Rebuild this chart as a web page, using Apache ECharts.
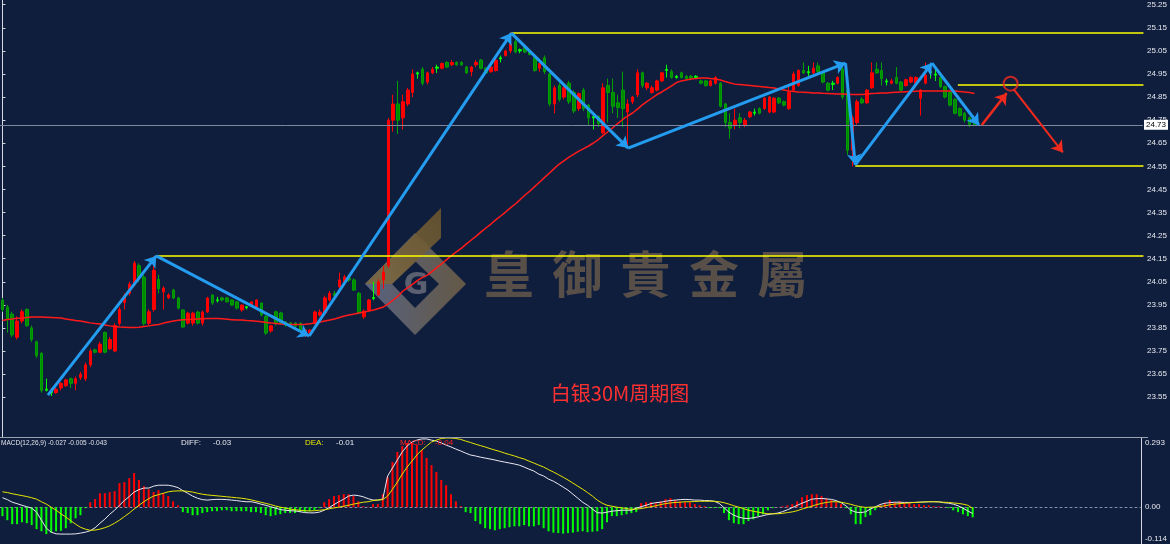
<!DOCTYPE html>
<html><head><meta charset="utf-8">
<script src="https://cdn.jsdelivr.net/npm/echarts@6/dist/echarts.min.js"></script>
<style>html,body{margin:0;padding:0;background:#101e3e;}#c{width:1170px;height:544px;}</style>
</head><body><div id="c"></div>
<script>
const TOTAL_SLOTS = 234;
const categories = Array.from({length: TOTAL_SLOTS}, (_, i) => 'B' + i);
// [open, close, low, high]
const ohlc = [
[23.97,23.93,23.92,23.98],[23.94,23.89,23.83,23.95],[23.91,23.82,23.81,23.92],[23.81,23.88,23.80,23.90],[23.88,23.92,23.87,23.93],[23.93,23.86,23.855,23.935],[23.85,23.80,23.79,23.86],[23.79,23.73,23.72,23.795],[23.74,23.58,23.57,23.745],[23.585,23.58,23.575,23.63],
[23.575,23.57,23.555,23.59],[23.57,23.585,23.565,23.59],[23.59,23.61,23.58,23.615],[23.60,23.625,23.595,23.63],[23.63,23.61,23.59,23.635],[23.61,23.63,23.58,23.64],[23.635,23.65,23.625,23.66],[23.63,23.69,23.62,23.70],[23.69,23.75,23.68,23.76],[23.755,23.745,23.74,23.76],
[23.745,23.78,23.74,23.79],[23.83,23.745,23.74,23.835],[23.76,23.80,23.755,23.81],[23.75,23.86,23.745,23.87],[23.87,23.93,23.86,23.94],[23.96,23.99,23.93,24.00],[24.00,24.04,23.99,24.05],[24.04,24.13,24.03,24.14],[24.12,24.07,24.05,24.13],[24.07,23.87,23.86,24.08],
[23.87,23.92,23.86,23.93],[23.93,24.10,23.92,24.16],[24.06,24.02,24.00,24.08],[24.006,24.023,23.93,24.03],[23.98,23.993,23.975,24.0],[24.014,23.98,23.975,24.02],[23.98,23.936,23.93,23.985],[23.928,23.854,23.85,23.93],[23.871,23.914,23.865,23.92],[23.871,23.914,23.86,23.92],
[23.919,23.871,23.865,23.925],[23.871,23.919,23.86,23.925],[23.919,23.98,23.915,23.985],[23.993,23.958,23.95,23.995],[23.972,23.968,23.96,23.985],[23.98,23.971,23.965,23.985],[23.98,23.963,23.96,23.985],[23.971,23.949,23.945,23.975],[23.963,23.936,23.93,23.965],[23.928,23.949,23.92,23.952],
[23.942,23.938,23.93,23.945],[23.949,23.963,23.945,23.965],[23.94,23.971,23.935,23.975],[23.958,23.906,23.90,23.96],[23.90,23.828,23.82,23.905],[23.837,23.859,23.83,23.862],[23.92,23.87,23.86,23.925],[23.915,23.87,23.865,23.92],[23.876,23.863,23.855,23.88],[23.872,23.863,23.855,23.875],
[23.871,23.858,23.85,23.875],[23.87,23.841,23.835,23.875],[23.828,23.841,23.811,23.845],[23.828,23.841,23.815,23.845],[23.871,23.919,23.865,23.925],[23.906,23.919,23.90,23.93],[23.915,23.98,23.91,23.99],[23.971,24.0,23.965,24.01],[24.0,23.99,23.98,24.01],[24.028,24.058,24.02,24.09],
[24.045,24.071,24.04,24.08],[24.066,24.058,24.05,24.075],[24.058,24.014,24.01,24.065],[24.0,23.915,23.91,24.005],[23.898,23.923,23.89,23.93],[23.928,23.971,23.92,23.975],[23.982,23.978,23.97,24.05],[23.993,24.05,23.99,24.06],[24.058,24.092,24.02,24.12],[24.12,24.75,24.11,24.76],
[24.75,24.82,24.70,24.86],[24.82,24.75,24.69,24.92],[24.76,24.83,24.71,24.86],[24.82,24.88,24.81,24.89],[24.87,24.95,24.85,24.97],[24.955,24.95,24.93,24.96],[24.97,24.91,24.90,24.98],[24.915,24.955,24.905,24.96],[24.955,24.97,24.95,24.98],[24.98,24.975,24.955,24.99],
[24.975,24.995,24.97,25.00],[25.0,24.98,24.975,25.005],[24.99,25.0,24.985,25.01],[25.0,24.99,24.985,25.005],[25.0,24.99,24.985,25.005],[24.98,24.955,24.95,24.985],[24.96,24.98,24.94,24.985],[24.99,25.0,24.98,25.01],[25.01,24.975,24.97,25.015],[24.975,24.955,24.95,24.98],
[24.96,24.98,24.955,24.985],[24.965,25.01,24.96,25.015],[25.02,25.015,25.0,25.03],[25.03,25.05,25.025,25.055],[25.05,25.08,25.04,25.13],[25.09,25.045,25.04,25.10],[25.055,25.05,25.04,25.06],[25.065,25.045,25.04,25.07],[25.045,25.035,25.03,25.05],[25.02,24.965,24.96,25.03],
[24.975,24.995,24.96,25.0],[25.02,24.96,24.95,25.03],[24.95,24.82,24.81,24.955],[24.82,24.89,24.78,24.90],[24.90,24.84,24.83,24.91],[24.85,24.89,24.84,24.90],[24.91,24.83,24.82,24.92],[24.87,24.79,24.78,24.88],[24.80,24.865,24.79,24.87],[24.88,24.80,24.79,24.89],
[24.815,24.76,24.73,24.82],[24.765,24.76,24.71,24.77],[24.765,24.735,24.72,24.77],[24.695,24.89,24.69,24.91],[24.90,24.87,24.74,24.93],[24.87,24.81,24.78,24.93],[24.825,24.805,24.76,24.86],[24.88,24.80,24.72,24.96],[24.785,24.82,24.63,24.84],[24.83,24.85,24.82,24.855],
[24.86,24.955,24.85,24.97],[24.955,24.90,24.89,24.96],[24.89,24.91,24.88,24.915],[24.87,24.89,24.865,24.90],[24.88,24.92,24.875,24.925],[24.92,24.955,24.915,24.96],[24.97,24.965,24.935,24.99],[24.96,24.935,24.93,24.97],[24.94,24.935,24.93,24.945],[24.955,24.935,24.93,24.96],
[24.94,24.93,24.925,24.945],[24.94,24.93,24.925,24.945],[24.94,24.935,24.93,24.945],[24.92,24.91,24.905,24.925],[24.92,24.90,24.895,24.925],[24.90,24.92,24.895,24.925],[24.91,24.935,24.905,24.94],[24.91,24.81,24.805,24.915],[24.82,24.74,24.72,24.825],[24.74,24.715,24.67,24.78],
[24.73,24.75,24.71,24.80],[24.76,24.74,24.715,24.78],[24.73,24.75,24.72,24.76],[24.765,24.785,24.76,24.79],[24.785,24.78,24.77,24.80],[24.80,24.78,24.775,24.805],[24.80,24.845,24.795,24.85],[24.785,24.85,24.78,24.855],[24.785,24.845,24.78,24.85],[24.845,24.825,24.82,24.85],
[24.83,24.815,24.81,24.835],[24.80,24.87,24.795,24.90],[24.88,24.95,24.875,24.96],[24.90,24.965,24.895,24.97],[24.965,24.955,24.95,25.0],[24.96,24.955,24.94,24.985],[24.955,24.975,24.95,25.0],[24.985,24.96,24.955,25.0],[24.955,24.915,24.91,24.96],[24.91,24.88,24.875,24.915],
[24.91,24.905,24.88,24.92],[24.91,24.935,24.905,24.94],[24.97,24.85,24.84,25.0],[24.88,24.62,24.60,24.89],[24.62,24.76,24.55,24.77],[24.74,24.83,24.73,24.84],[24.84,24.825,24.82,24.85],[24.825,24.88,24.82,24.885],[24.89,24.955,24.885,25.0],[24.97,24.955,24.95,25.0],
[24.965,24.93,24.90,25.0],[24.92,24.915,24.90,24.93],[24.91,24.92,24.905,24.93],[24.935,24.91,24.905,24.98],[24.915,24.88,24.875,24.92],[24.90,24.925,24.895,24.93],[24.915,24.935,24.91,24.94],[24.91,24.935,24.905,24.94],[24.845,24.88,24.77,24.885],[24.91,24.945,24.905,25.0],
[24.96,24.955,24.93,24.99],[24.95,24.945,24.92,24.97],[24.935,24.895,24.89,24.94],[24.895,24.85,24.845,24.90],[24.87,24.815,24.81,24.875],[24.84,24.78,24.775,24.845],[24.80,24.77,24.765,24.805],[24.78,24.75,24.74,24.785],[24.76,24.73,24.72,24.765],[24.745,24.73,24.725,24.75]
];
const ma = [
23.882,23.887,23.889,23.892,23.893,23.895,23.897,23.897,23.897,23.896,
23.895,23.894,23.893,23.889,23.886,23.882,23.880,23.876,23.872,23.869,
23.867,23.863,23.859,23.856,23.854,23.853,23.852,23.852,23.853,23.856,
23.859,23.863,23.865,23.871,23.876,23.880,23.883,23.885,23.887,23.888,
23.889,23.890,23.891,23.891,23.891,23.890,23.888,23.886,23.884,23.884,
23.882,23.881,23.879,23.877,23.874,23.871,23.869,23.867,23.866,23.865,
23.865,23.865,23.866,23.868,23.871,23.876,23.880,23.884,23.889,23.895,
23.902,23.906,23.910,23.915,23.919,23.923,23.928,23.934,23.941,23.954,
23.971,23.988,24.010,24.025,24.040,24.056,24.069,24.079,24.095,24.112,
24.129,24.147,24.164,24.181,24.196,24.214,24.231,24.248,24.266,24.283,
24.300,24.318,24.335,24.352,24.370,24.387,24.406,24.426,24.443,24.463,
24.482,24.502,24.521,24.541,24.560,24.575,24.590,24.603,24.616,24.627,
24.638,24.651,24.666,24.684,24.701,24.718,24.736,24.753,24.768,24.781,
24.798,24.816,24.831,24.846,24.861,24.872,24.885,24.898,24.913,24.920,
24.924,24.928,24.930,24.933,24.933,24.930,24.928,24.924,24.917,24.911,
24.906,24.904,24.902,24.900,24.898,24.896,24.894,24.891,24.889,24.885,
24.881,24.876,24.874,24.872,24.871,24.870,24.868,24.868,24.866,24.865,
24.864,24.863,24.863,24.862,24.861,24.861,24.861,24.863,24.865,24.866,
24.868,24.868,24.870,24.871,24.872,24.873,24.874,24.875,24.876,24.876,
24.876,24.876,24.876,24.876,24.876,24.876,24.874,24.872,24.870,24.865
];
const diff = [
0.040,0.032,0.021,0.015,0.008,0.002,-0.004,-0.021,-0.055,-0.089,
-0.106,-0.113,-0.114,-0.114,-0.114,-0.113,-0.110,-0.106,-0.100,-0.087,
-0.068,-0.051,-0.030,-0.013,0.008,0.028,0.045,0.064,0.074,0.081,
0.081,0.089,0.093,0.093,0.093,0.089,0.083,0.070,0.059,0.047,
0.038,0.032,0.030,0.032,0.033,0.033,0.032,0.030,0.028,0.025,
0.023,0.023,0.019,0.013,0.008,0.002,-0.004,-0.010,-0.013,-0.015,
-0.016,-0.019,-0.023,-0.024,-0.024,-0.021,-0.013,-0.002,0.011,0.023,
0.034,0.047,0.051,0.049,0.044,0.036,0.030,0.030,0.034,0.132,
0.166,0.200,0.234,0.259,0.276,0.284,0.289,0.289,0.284,0.280,
0.272,0.263,0.255,0.246,0.238,0.229,0.221,0.217,0.212,0.208,
0.204,0.200,0.195,0.191,0.187,0.183,0.178,0.170,0.161,0.153,
0.140,0.132,0.119,0.110,0.098,0.085,0.072,0.055,0.038,0.021,
0.008,-0.008,-0.023,-0.025,-0.021,-0.017,-0.015,-0.013,-0.013,-0.013,
-0.004,0.002,0.008,0.015,0.019,0.021,0.025,0.028,0.030,0.032,
0.033,0.032,0.030,0.030,0.028,0.028,0.025,0.016,-0.002,-0.021,
-0.034,-0.042,-0.047,-0.048,-0.045,-0.041,-0.036,-0.031,-0.028,-0.025,
-0.019,-0.011,-0.002,0.008,0.017,0.025,0.034,0.036,0.037,0.035,
0.033,0.028,0.019,0.006,-0.013,-0.021,-0.023,-0.020,-0.008,0.001,
0.011,0.017,0.019,0.021,0.021,0.020,0.020,0.020,0.021,0.022,
0.023,0.023,0.023,0.019,0.017,0.013,0.006,-0.004,-0.016,-0.027
];
const dea = [
0.065,0.062,0.057,0.053,0.049,0.045,0.040,0.034,0.023,0.013,
0.000,-0.013,-0.028,-0.042,-0.057,-0.072,-0.085,-0.093,-0.098,-0.097,
-0.093,-0.087,-0.079,-0.068,-0.055,-0.040,-0.025,-0.008,0.008,0.023,
0.036,0.047,0.053,0.059,0.065,0.068,0.069,0.069,0.067,0.064,
0.059,0.055,0.052,0.050,0.048,0.046,0.044,0.042,0.040,0.038,
0.035,0.031,0.026,0.021,0.016,0.011,0.005,0.000,-0.004,-0.008,
-0.011,-0.013,-0.015,-0.016,-0.015,-0.013,-0.011,-0.007,-0.003,0.000,
0.004,0.008,0.013,0.017,0.021,0.023,0.028,0.030,0.032,0.047,
0.076,0.106,0.140,0.170,0.195,0.221,0.242,0.259,0.276,0.284,
0.291,0.293,0.293,0.291,0.287,0.280,0.274,0.267,0.261,0.255,
0.248,0.242,0.236,0.229,0.223,0.217,0.210,0.204,0.195,0.187,
0.178,0.170,0.159,0.149,0.138,0.127,0.115,0.102,0.089,0.076,
0.062,0.047,0.030,0.017,0.008,0.004,0.000,-0.003,-0.006,-0.009,
-0.008,-0.006,-0.002,0.002,0.006,0.011,0.015,0.018,0.020,0.021,
0.023,0.023,0.024,0.025,0.025,0.025,0.025,0.023,0.019,0.013,
0.006,0.000,-0.006,-0.013,-0.017,-0.021,-0.025,-0.028,-0.028,-0.028,
-0.026,-0.023,-0.020,-0.015,-0.008,-0.002,0.004,0.011,0.016,0.020,
0.023,0.023,0.021,0.017,0.012,0.006,0.002,-0.001,0.000,0.001,
0.003,0.006,0.010,0.013,0.015,0.017,0.018,0.020,0.021,0.022,
0.023,0.023,0.022,0.021,0.020,0.018,0.016,0.013,0.008,-0.005
];
const hist = [
-0.038,-0.055,-0.072,-0.072,-0.064,-0.068,-0.076,-0.093,-0.102,-0.114,
-0.108,-0.102,-0.100,-0.089,-0.068,-0.047,-0.034,-0.004,0.021,0.034,
0.059,0.059,0.064,0.068,0.102,0.106,0.123,0.144,0.115,0.089,
0.076,0.064,0.072,0.059,0.047,0.025,0.008,-0.021,-0.025,-0.034,
-0.034,-0.025,-0.021,-0.017,-0.017,-0.013,-0.013,-0.017,-0.017,-0.017,
-0.017,-0.021,-0.021,-0.025,-0.034,-0.038,-0.034,-0.030,-0.025,-0.025,
-0.025,-0.021,-0.021,-0.017,-0.013,-0.004,0.021,0.034,0.047,0.051,
0.055,0.055,0.047,0.025,0.004,0.002,0.013,0.013,0.055,0.127,
0.191,0.234,0.259,0.272,0.272,0.263,0.242,0.208,0.178,0.149,
0.115,0.093,0.055,0.025,0.004,-0.021,-0.025,-0.059,-0.072,-0.089,
-0.093,-0.098,-0.093,-0.089,-0.085,-0.081,-0.081,-0.076,-0.081,-0.081,
-0.076,-0.089,-0.102,-0.108,-0.110,-0.112,-0.110,-0.108,-0.104,-0.102,
-0.106,-0.104,-0.102,-0.093,-0.064,-0.038,-0.038,-0.034,-0.030,-0.025,
-0.021,0.017,0.021,0.021,0.017,0.025,0.034,0.038,0.030,0.025,
0.021,0.021,0.013,0.008,0.004,-0.004,-0.004,-0.004,-0.025,-0.055,
-0.068,-0.072,-0.072,-0.059,-0.051,-0.038,-0.030,-0.013,-0.004,0.001,
0.004,0.008,0.013,0.025,0.042,0.051,0.055,0.055,0.047,0.038,
0.030,0.021,0.013,-0.004,-0.030,-0.072,-0.072,-0.042,-0.034,-0.013,
0.008,0.017,0.030,0.021,0.025,0.017,0.017,0.013,0.013,0.008,
0.008,0.004,0.004,0.001,-0.004,-0.013,-0.021,-0.030,-0.038,-0.043
];
const priceTicks = [23.55,23.65,23.75,23.85,23.95,24.05,24.15,24.25,24.35,24.45,24.55,24.65,24.75,24.85,24.95,25.05,25.15,25.25];
const macdTicks = [0.293, 0, -0.114];
const lastPrice = 24.73;
// horizontal levels: [start slot, price]
const levels = [[104.2, 25.127], [195.6, 24.902], [174.6, 24.551], [31.5, 24.162]];
const levelEnd = 233.6;
// wave turning points [slot, price]
const wavePoints = [[9.3,23.559],[31.5,24.162],[62.8,23.815],[104.2,25.127],[128.1,24.629],[172.6,24.997],[174.6,24.556],[190.3,24.997],[199.9,24.729]];
const forecastUp = [[200.5,24.729],[205.6,24.867]];
const forecastDown = [[207.0,24.884],[217.1,24.61]];
const forecastCircle = [206.4, 24.908];
const macdHeader = {params: 'MACD(12,26,9) -0.027 -0.005 -0.043', diff: '-0.03', dea: '-0.01', macd: '-0.04'};

const BG = '#101e3e';
const chart = echarts.init(document.getElementById('c'), null, {renderer: 'canvas'});

const candleData = ohlc.map(d => {
  if (Math.abs(d[0] - d[1]) <= 0.006) {
    return {value: d, itemStyle: {color: '#00ff00', color0: '#00ff00', borderColor: '#00ff00', borderColor0: '#00ff00'}};
  }
  return d;
});
const waveSegs = [];
for (let i = 0; i < wavePoints.length - 1; i++) {
  waveSegs.push({coords: [wavePoints[i], wavePoints[i + 1]]});
}
const levelSegs = levels.map(l => ({coords: [[l[0], l[1]], [levelEnd, l[1]]]}));
const axisFont = '"Liberation Sans Narrow","Liberation Sans",sans-serif';

const wmChars = ['皇','御','貴','金','屬'];
const wmGraphics = wmChars.map((ch, k) => ({
  type: 'text', x: 509 + k * 68.3, y: 274, z: 0,
  style: {text: ch, fill: 'rgba(100,88,74,0.85)', fontSize: 50, fontWeight: 'bold',
    fontFamily: '"Noto Sans CJK TC","Noto Sans CJK SC",sans-serif', align: 'center', verticalAlign: 'middle'}
}));

const option = {
  backgroundColor: BG,
  animation: false,
  grid: [
    {left: 0, right: 22, top: 0, height: 437},
    {left: 0, right: 22, top: 438, height: 106}
  ],
  xAxis: [
    {type: 'category', data: categories, gridIndex: 0, boundaryGap: true, show: false},
    {type: 'value', gridIndex: 0, min: -0.5, max: TOTAL_SLOTS - 0.5, show: false},
    {type: 'category', data: categories, gridIndex: 1, boundaryGap: true,
      axisLine: {show: true, onZero: true, lineStyle: {color: '#8a91a6', width: 1, type: [2, 3]}},
      axisTick: {show: false}, axisLabel: {show: false}, splitLine: {show: false}}
  ],
  yAxis: [
    {type: 'value', gridIndex: 0, position: 'right', min: 23.3777, max: 25.2704, scale: true,
      splitLine: {show: false},
      axisLine: {show: true, lineStyle: {color: '#d4d8e0', width: 1}},
      axisTick: {show: true, length: 3, customValues: priceTicks, lineStyle: {color: '#d4d8e0'}},
      axisLabel: {show: true, customValues: priceTicks, formatter: v => v.toFixed(2), color: '#e6e8ee',
        fontSize: 8, fontFamily: axisFont, margin: 4}},
    {type: 'value', gridIndex: 1, position: 'right', min: -0.156, max: 0.293,
      splitLine: {show: false},
      axisLine: {show: true, lineStyle: {color: '#d4d8e0', width: 1}},
      axisTick: {show: false},
      axisLabel: {show: true, customValues: macdTicks, color: '#e6e8ee', fontSize: 8, fontFamily: axisFont, margin: 4,
        formatter: v => v === 0 ? '0.00' : '{d|' + v.toFixed(3) + '}',
        rich: {d: {fontSize: 8, fontFamily: axisFont, color: '#e6e8ee', padding: [10, 0, 0, 0]}}}}
  ],
  series: [
    {type: 'candlestick', name: 'price', xAxisIndex: 0, yAxisIndex: 0, data: candleData, barWidth: 3,
      itemStyle: {color: '#ff0000', color0: '#008a00', borderColor: '#ff0000', borderColor0: '#00a000', borderWidth: 1},
      markLine: {symbol: ['none', 'none'], silent: true, animation: false,
        lineStyle: {color: '#7d879d', width: 1, type: 'solid'},
        label: {show: true, position: 'end', formatter: lastPrice.toFixed(2), backgroundColor: '#ffffff', color: '#000000',
          fontSize: 8, fontFamily: axisFont, padding: [1, 2, 1, 2], distance: 1},
        data: [{yAxis: lastPrice}]}},
    {type: 'line', name: 'MA', xAxisIndex: 0, yAxisIndex: 0, data: ma, showSymbol: false, symbol: 'none',
      lineStyle: {color: '#ff1a1a', width: 1.5}, z: 3},
    {type: 'lines', coordinateSystem: 'cartesian2d', xAxisIndex: 1, yAxisIndex: 0, data: levelSegs,
      symbol: ['none', 'none'], lineStyle: {color: '#ffff00', width: 1.5, opacity: 1}, z: 4},
    {type: 'lines', coordinateSystem: 'cartesian2d', xAxisIndex: 1, yAxisIndex: 0, data: waveSegs,
      symbol: ['none', 'arrow'], symbolSize: 11, lineStyle: {color: '#249df0', width: 3, opacity: 1}, z: 5},
    {type: 'lines', coordinateSystem: 'cartesian2d', xAxisIndex: 1, yAxisIndex: 0,
      data: [{coords: forecastUp, lineStyle: {width: 2.5}}, {coords: forecastDown, lineStyle: {width: 2}}],
      symbol: ['none', 'arrow'], symbolSize: 11, lineStyle: {color: '#f02a1c', width: 2, opacity: 1}, z: 5},
    {type: 'scatter', xAxisIndex: 1, yAxisIndex: 0, data: [forecastCircle], symbol: 'circle', symbolSize: 14,
      itemStyle: {color: 'rgba(0,0,0,0)', borderColor: '#f02a1c', borderWidth: 2}, z: 5},
    {type: 'bar', name: 'MACD', xAxisIndex: 2, yAxisIndex: 1, barWidth: 2,
      data: hist.map(v => ({value: v, itemStyle: {color: v >= 0 ? '#ff0000' : '#00ff00'}}))},
    {type: 'line', name: 'DIFF', xAxisIndex: 2, yAxisIndex: 1, data: diff, showSymbol: false, symbol: 'none',
      lineStyle: {color: '#e8e8f0', width: 1}},
    {type: 'line', name: 'DEA', xAxisIndex: 2, yAxisIndex: 1, data: dea, showSymbol: false, symbol: 'none',
      lineStyle: {color: '#e6e600', width: 1}}
  ],
  graphic: [
    // watermark logo
    {type: 'polygon', z: 0, shape: {points: [[365,284],[415,233],[466,284],[415,335]]},
      style: {fill: new echarts.graphic.LinearGradient(0, 0, 1, 0, [{offset: 0, color: 'rgba(95,105,135,0.9)'}, {offset: 1, color: 'rgba(110,95,70,0.9)'}])}},
    {type: 'polygon', z: 0, shape: {points: [[392,284],[415,261],[439,284],[415,308]]}, style: {fill: BG}},
    {type: 'polygon', z: 0, shape: {points: [[365,284],[441,208],[441,238],[392,284]]},
      style: {fill: new echarts.graphic.LinearGradient(0, 1, 1, 0, [{offset: 0, color: 'rgba(125,105,65,0.9)'}, {offset: 1, color: 'rgba(105,85,45,0.9)'}])}},
    {type: 'text', z: 0, x: 416, y: 286, style: {text: 'G', fill: 'rgba(95,100,115,0.95)', fontSize: 30, fontWeight: 'bold',
      fontFamily: '"DejaVu Sans",sans-serif', align: 'center', verticalAlign: 'middle'}},
    ...wmGraphics,
    {type: 'text', z: 10, x: 620, y: 393, style: {text: '白银30M周期图', fill: '#ff3030', fontSize: 20,
      fontFamily: '"Noto Sans CJK SC",sans-serif', align: 'center', verticalAlign: 'middle'}},
    // separator between panels
    {type: 'line', z: 10, shape: {x1: 0, y1: 437.5, x2: 1148, y2: 437.5}, style: {stroke: '#9aa0b2', lineWidth: 1}},
    // MACD header
    {type: 'text', z: 10, x: 1, y: 443, style: {text: macdHeader.params, fill: '#dfe2ea', fontSize: 6.5, fontFamily: axisFont, verticalAlign: 'middle'}},
    {type: 'text', z: 10, x: 181, y: 443, style: {text: 'DIFF:', fill: '#e6e8ee', fontSize: 8, fontFamily: axisFont, verticalAlign: 'middle'}},
    {type: 'text', z: 10, x: 213, y: 443, style: {text: macdHeader.diff, fill: '#e6e8ee', fontSize: 8, fontFamily: axisFont, verticalAlign: 'middle'}},
    {type: 'text', z: 10, x: 305, y: 443, style: {text: 'DEA:', fill: '#e6e600', fontSize: 8, fontFamily: axisFont, verticalAlign: 'middle'}},
    {type: 'text', z: 10, x: 336, y: 443, style: {text: macdHeader.dea, fill: '#e6e8ee', fontSize: 8, fontFamily: axisFont, verticalAlign: 'middle'}},
    {type: 'text', z: 10, x: 400, y: 443, style: {text: 'MACD:', fill: '#ff2020', fontSize: 8, fontFamily: axisFont, verticalAlign: 'middle'}},
    {type: 'text', z: 10, x: 435, y: 443, style: {text: macdHeader.macd, fill: '#ff2020', fontSize: 8, fontFamily: axisFont, verticalAlign: 'middle'}}
  ]
};
chart.setOption(option);
</script>
</body></html>
